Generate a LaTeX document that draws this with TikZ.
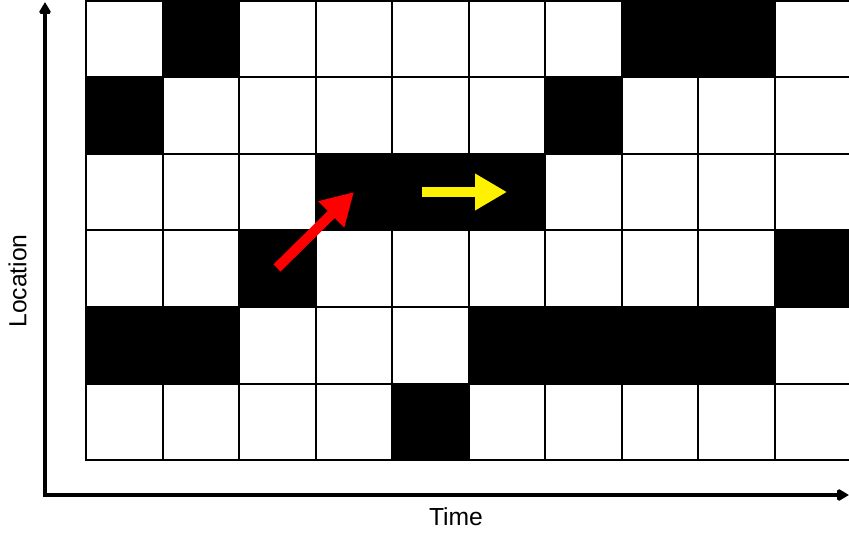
\documentclass[tikz,border=0pt]{standalone}
\usepackage{fontspec}
\setmainfont{Liberation Sans}
\usepackage{tikz}
\usetikzlibrary{arrows.meta, positioning}

\begin{document}
\begin{tikzpicture}[
  x=0.75pt, y=-0.75pt,
  cell/.style={rectangle, draw=black, line width=1.5pt, minimum width=57.375pt, minimum height=57.375pt, inner sep=0pt, fill=white},
  busy/.style={cell, fill=black},
  axis/.style={line width=3pt, {Triangle[length=9pt,width=10pt]}-{Triangle[length=9pt,width=10pt]}, miter limit=2},
  move/.style={line width=7.5pt, -{Triangle[length=24pt,width=26pt]}},
  lbl/.style={font=\fontsize{18.5}{22}\selectfont, inner sep=0pt}
]
  \useasboundingbox (0,0) rectangle (849,538);
  \begin{scope}
    \clip (0,0) rectangle (849,538);
    % grid of time slots
    \foreach \r in {0,...,5}
      \foreach \c in {0,...,9}
        \node[cell] (cell-\r-\c) at ({124.25+76.5*\c},{39.25+76.5*\r}) {};
    % occupied slots
    \foreach \r/\c in {0/1,0/7,0/8,1/0,1/6,2/3,2/4,2/5,3/2,3/9,4/0,4/1,4/5,4/6,4/7,4/8,5/4}
      \node[busy] at (cell-\r-\c) {};
  \end{scope}

  % axes
  \coordinate (ytop) at (45,2);
  \coordinate (orig) at (45,495);
  \coordinate (xend) at (849,495);
  \draw[axis] (ytop) -- (orig) -- (xend);
  \node[lbl, rotate=90] (loc) at (17.5,281) {Location};
  \node[lbl] (time) at (456,517) {Time};

  % moves
  \coordinate (redA) at (277,268);
  \coordinate (redB) at (354,192);
  \coordinate (yelA) at (422,192);
  \coordinate (yelB) at (507,192);
  \draw[move, red] (redA) -- (redB);
  \draw[move, yellow] (yelA) -- (yelB);
\end{tikzpicture}
\end{document}
